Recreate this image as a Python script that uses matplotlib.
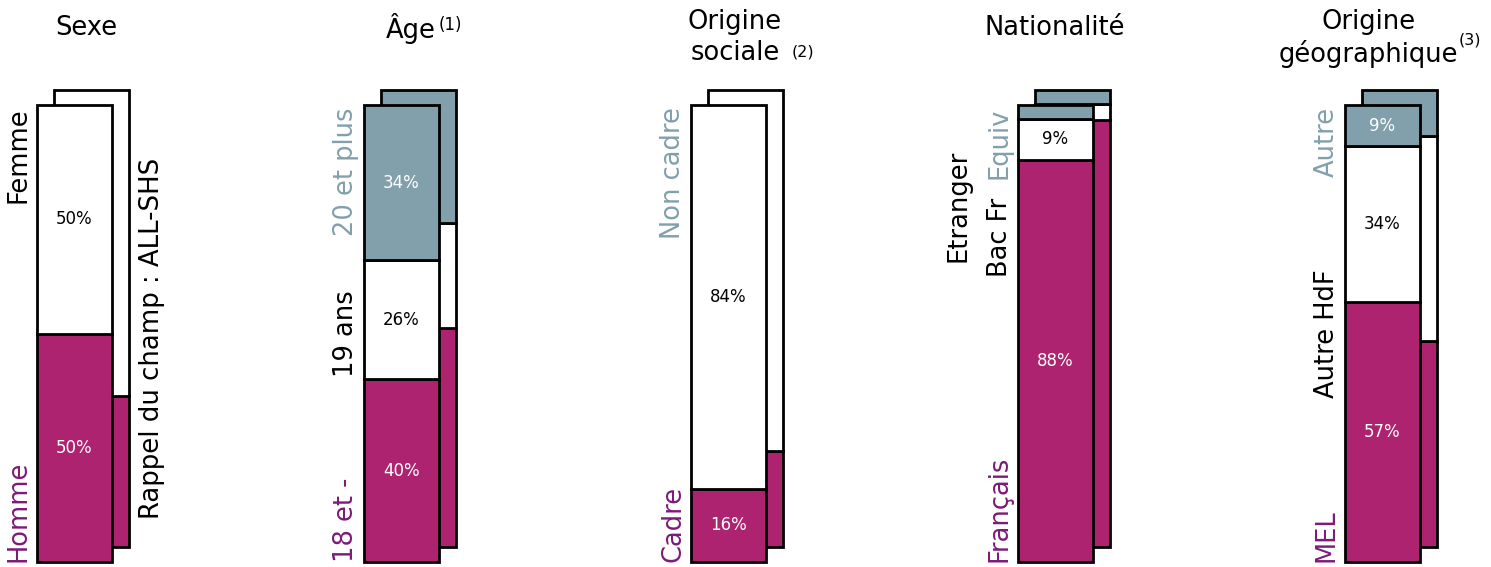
import matplotlib.pyplot as plt
import numpy as np

# bottom -> top segments for each block
groups = ["Sexe", "Âge", "Origine\nsociale", "Nationalité", "Origine\ngéographique"]
notes = ["", "(1)", "(2)", "", "(3)"]

sexe_labels = ["Homme", "Femme"]
sexe_pct = [50, 50]
sexe_ref = [33, 67]

age_labels = ["18 et -", "19 ans", "20 et plus"]
age_pct = [40, 26, 34]
age_ref = [48, 23, 29]

soc_labels = ["Cadre", "Non cadre"]
soc_pct = [16, 84]
soc_ref = [21, 79]

nat_labels = ["Français", "Bac Fr", "Equiv"]
nat_pct = [88, 9, 3]
nat_ref = [93.5, 3.5, 3]

geo_labels = ["MEL", "Autre HdF", "Autre"]
geo_pct = [57, 34, 9]
geo_ref = [45, 45, 10]

pink = "#AD2370"
grey = "#82A0AC"
purple = "#7D1A78"

blocks = [
    (sexe_labels, sexe_pct, sexe_ref, [pink, "white"], [purple, "black"]),
    (age_labels, age_pct, age_ref, [pink, "white", grey], [purple, "black", grey]),
    (soc_labels, soc_pct, soc_ref, [pink, "white"], [purple, grey]),
    (nat_labels, nat_pct, nat_ref, [pink, "white", grey], [purple, "black", grey]),
    (geo_labels, geo_pct, geo_ref, [pink, "white", grey], [purple, "black", grey]),
]

fig = plt.figure(figsize=(14.91, 5.67), dpi=100)
ax = fig.add_axes([0, 0, 1, 1])
ax.set_xlim(-74.5 / 327, (1491 - 74.5) / 327)
ax.set_ylim(-5 / 4.57, 562 / 4.57)
ax.axis("off")

w = 75 / 327
dx = 17 / 327
dy = 15 / 4.57
lab_x = w / 2 + 18 / 327

for i, (labels, pct, ref, colors, tcolors) in enumerate(blocks):
    # rappel du champ (bar behind)
    bottom = 0
    for v, c in zip(ref, colors):
        ax.bar(i + dx, v, w, bottom=bottom + dy, color=c, edgecolor="black",
               linewidth=2, zorder=1)
        bottom += v
    # population
    bottom = 0
    for j, (v, c) in enumerate(zip(pct, colors)):
        ax.bar(i, v, w, bottom=bottom, color=c, edgecolor="black",
               linewidth=2, zorder=2)
        if v >= 5:
            ax.text(i, bottom + v / 2, f"{v}%", ha="center", va="center",
                    fontsize=12, color="black" if c == "white" else "white",
                    zorder=3)
        bottom += v
    # category labels
    ax.text(i - lab_x, 0, labels[0], rotation=90, ha="center", va="bottom",
            fontsize=18.5, color=tcolors[0])
    ax.text(i - lab_x, 99.5, labels[-1], rotation=90, ha="center", va="top",
            fontsize=18.5, color=tcolors[-1])
    if len(labels) == 3 and i != 3:
        ax.text(i - lab_x, 50, labels[1], rotation=90, ha="center",
                va="center", fontsize=18.5, color=tcolors[1])

# Nationalité : middle labels
ax.text(3 - lab_x, 71, nat_labels[1], rotation=90, ha="center", va="center",
        fontsize=18.5, color="black")
ax.text(3 - w / 2 - 60 / 327, 78, "Etranger", rotation=90, ha="center",
        va="center", fontsize=18.5, color="black")

ax.text(0.237, 49, "Rappel du champ : ALL-SHS", rotation=90, ha="center",
        va="center", fontsize=18.7)

# titles
ax.text(0.037, 116.8, groups[0], ha="center", va="center", fontsize=18.5)
ax.text(1.029, 116.8, groups[1], ha="center", va="center", fontsize=18.5)
ax.text(1.150, 117.4, notes[1], ha="center", va="center", fontsize=12)
ax.text(2.02, 114.8, groups[2], ha="center", va="center", fontsize=18.5,
        linespacing=1.25)
ax.text(2.229, 111.5, notes[2], ha="center", va="center", fontsize=11.5)
ax.text(2.997, 116.8, groups[3], ha="center", va="center", fontsize=18.5)
ax.text(3.958, 114.5, groups[4], ha="center", va="center", fontsize=18.5,
        linespacing=1.25)
ax.text(4.268, 114.2, notes[4], ha="center", va="center", fontsize=11.5)

fig.savefig("out.png", dpi=100)
